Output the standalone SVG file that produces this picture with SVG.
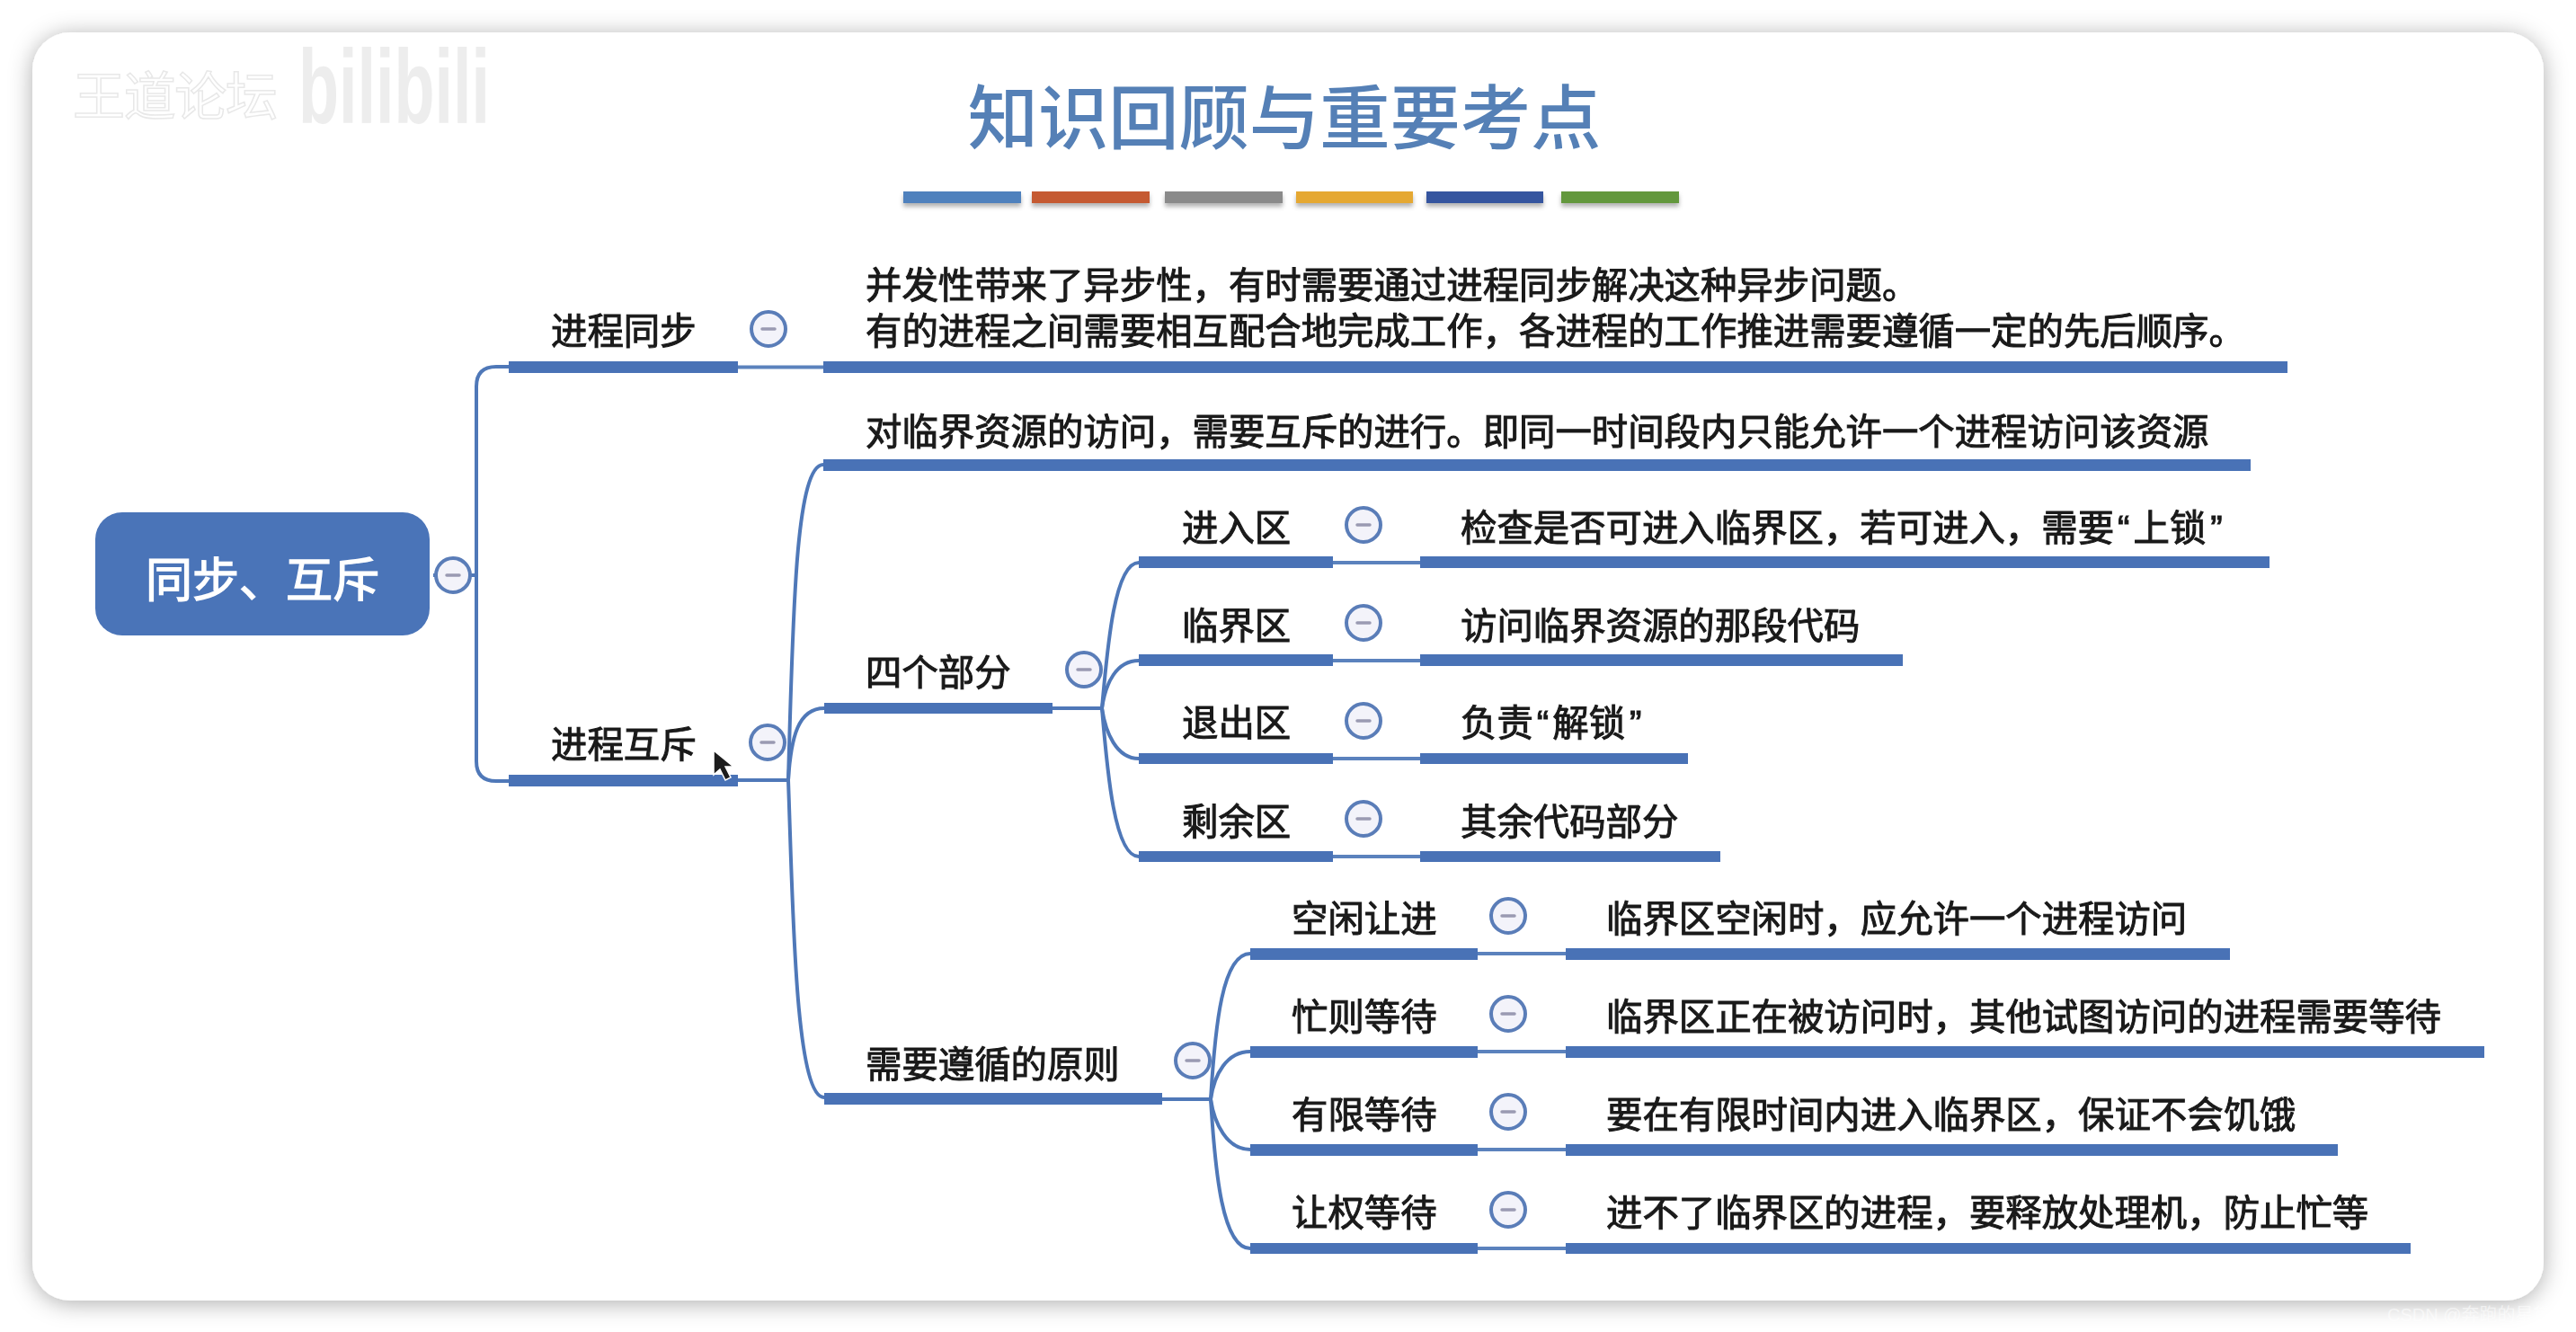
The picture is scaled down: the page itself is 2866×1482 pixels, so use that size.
<svg xmlns="http://www.w3.org/2000/svg" width="2866" height="1482" viewBox="0 0 2866 1482" xml:lang="zh-CN">
<style>
text{font-family:"Liberation Sans","Noto Sans CJK SC",sans-serif}
.t{font-size:40.4px;fill:#1a1a1a;stroke:#1a1a1a;stroke-width:1;filter:url(#soft)}
.bar{fill:#4a72b6;filter:url(#soft)}
.line{fill:none;stroke:#4f78b8;stroke-width:4}
.thin{fill:none;stroke:#5b82bd;stroke-width:4}
.c{fill:#f3f3fa;stroke:#5a7db8;stroke-width:4}
.d{stroke:#9a9ab2;stroke-width:3.5;stroke-linecap:round}
.sw{filter:url(#barShadow)}
.q{letter-spacing:4px}
</style>
<defs>
<filter id="card" x="-5%" y="-8%" width="110%" height="116%"><feDropShadow dx="0" dy="3" stdDeviation="13" flood-color="#000" flood-opacity="0.32"/></filter>
<filter id="barShadow" x="-5%" y="-50%" width="110%" height="250%"><feDropShadow dx="0" dy="4" stdDeviation="2.5" flood-color="#000" flood-opacity="0.3"/></filter>
<filter id="soft" x="-2%" y="-20%" width="104%" height="140%"><feGaussianBlur stdDeviation="0.7"/></filter>
<g id="minus"><circle class="c" r="19"/><line class="d" x1="-7" x2="7"/></g>
</defs>
<rect width="2866" height="1482" fill="#fff"/>
<rect id="card-bg" x="36" y="36" width="2794" height="1411" rx="42" fill="#fff" filter="url(#card)"/>
<g id="watermark">
<text x="81" y="128" font-size="58" fill="#fff" stroke="#e8e8e8" stroke-width="1.5" textLength="228" font-family="Noto Sans CJK SC, sans-serif">王道论坛</text>
<text x="332" y="137" font-size="116" fill="#ededed" font-weight="700" textLength="213" lengthAdjust="spacingAndGlyphs">bilibili</text>
</g>
<g id="title">
<text x="1429" y="160" text-anchor="middle" font-size="78.300" font-weight="500" fill="#5480b6" style="filter:url(#soft)">知识回顾与重要考点</text>
<g class="sw">
<rect x="1005" y="213" width="131" height="13" fill="#4f81bd"/>
<rect x="1148" y="213" width="131" height="13" fill="#c55a33"/>
<rect x="1296" y="213" width="131" height="13" fill="#8a8a8a"/>
<rect x="1442" y="213" width="130" height="13" fill="#e5a832"/>
<rect x="1587" y="213" width="130" height="13" fill="#34559f"/>
<rect x="1737" y="213" width="131" height="13" fill="#63983d"/>
</g>
</g>
<g id="connectors">
<path class="line" d="M482 640H530M566 408H552Q530 408 530 430V847Q530 869 552 869H566"/>
<path class="thin" d="M821 408.500H916"/>
<path class="line" d="M821 868H877"/>
<path class="line" d="M877 868C882 700 884 517 916 517"/>
<path class="line" d="M877 868C880 820 888 788 917 788"/>
<path class="line" d="M877 868C882 1000 884 1221 917 1221"/>
<path class="line" d="M1171 788H1226"/>
<path class="line" d="M1226 788C1232 720 1240 626 1267 626"/>
<path class="line" d="M1226 788C1230 760 1242 735 1267 735"/>
<path class="line" d="M1226 788C1230 815 1242 844 1267 844"/>
<path class="line" d="M1226 788C1232 860 1240 953 1267 953"/>
<path class="thin" d="M1483 626H1580M1483 735H1580M1483 844H1580M1483 953H1580"/>
<path class="line" d="M1293 1223H1347"/>
<path class="line" d="M1347 1223C1352 1140 1360 1061 1391 1061"/>
<path class="line" d="M1347 1223C1351 1195 1365 1170 1391 1170"/>
<path class="line" d="M1347 1223C1351 1250 1365 1279 1391 1279"/>
<path class="line" d="M1347 1223C1352 1305 1360 1389 1391 1389"/>
<path class="thin" d="M1644 1061H1742M1644 1170H1742M1644 1279H1742M1644 1389H1742"/>
</g>
<g id="root"><rect x="106" y="570" width="372" height="137" rx="30" fill="#4a74b8"/><text x="292" y="664" text-anchor="middle" font-size="52" stroke="#fff" stroke-width="1.400" fill="#fff" style="filter:url(#soft)">同步、互斥</text><use href="#minus" x="504" y="640"/></g>
<g id="n-sync"><rect class="bar" x="566" y="402" width="255" height="13"/><text class="t" x="613" y="383">进程同步</text><use href="#minus" x="855" y="366"/></g>
<g id="n-sync-desc"><rect class="bar" x="916" y="402" width="1629" height="13"/><text class="t" x="963" y="332">并发性带来了异步性，有时需要通过进程同步解决这种异步问题。</text><text class="t" x="963" y="383">有的进程之间需要相互配合地完成工作，各进程的工作推进需要遵循一定的先后顺序。</text></g>
<g id="n-mutex"><rect class="bar" x="566" y="862" width="255" height="13"/><text class="t" x="613" y="843">进程互斥</text><use href="#minus" x="854" y="826"/></g>
<g id="n-access"><rect class="bar" x="916" y="511" width="1588" height="13"/><text class="t" x="963" y="495">对临界资源的访问，需要互斥的进行。即同一时间段内只能允许一个进程访问该资源</text></g>
<g id="n-four"><rect class="bar" x="917" y="782" width="254" height="12"/><text class="t" x="963" y="763">四个部分</text><use href="#minus" x="1206" y="745"/></g>
<g id="n-enter"><rect class="bar" x="1267" y="619" width="216" height="13"/><text class="t" x="1315" y="602">进入区</text><use href="#minus" x="1517" y="584"/></g>
<g id="n-enter-d"><rect class="bar" x="1580" y="619" width="945" height="13"/><text class="t" x="1625" y="602">检查是否可进入临界区，若可进入，需要<tspan class="q" dx="4">“</tspan>上锁<tspan dx="5">”</tspan></text></g>
<g id="n-crit"><rect class="bar" x="1267" y="728" width="216" height="13"/><text class="t" x="1315" y="711">临界区</text><use href="#minus" x="1517" y="693"/></g>
<g id="n-crit-d"><rect class="bar" x="1580" y="728" width="537" height="13"/><text class="t" x="1625" y="711">访问临界资源的那段代码</text></g>
<g id="n-exit"><rect class="bar" x="1267" y="838" width="216" height="12"/><text class="t" x="1315" y="819">退出区</text><use href="#minus" x="1517" y="802"/></g>
<g id="n-exit-d"><rect class="bar" x="1580" y="838" width="298" height="12"/><text class="t" x="1625" y="819">负责<tspan class="q" dx="4">“</tspan>解锁<tspan dx="5">”</tspan></text></g>
<g id="n-rem"><rect class="bar" x="1267" y="947" width="216" height="12"/><text class="t" x="1315" y="929">剩余区</text><use href="#minus" x="1517" y="911"/></g>
<g id="n-rem-d"><rect class="bar" x="1580" y="947" width="334" height="12"/><text class="t" x="1625" y="929">其余代码部分</text></g>
<g id="n-rule"><rect class="bar" x="917" y="1216" width="376" height="13"/><text class="t" x="963" y="1199">需要遵循的原则</text><use href="#minus" x="1327" y="1180"/></g>
<g id="n-idle"><rect class="bar" x="1391" y="1055" width="253" height="13"/><text class="t" x="1437" y="1037">空闲让进</text><use href="#minus" x="1678" y="1019"/></g>
<g id="n-idle-d"><rect class="bar" x="1742" y="1055" width="739" height="13"/><text class="t" x="1787" y="1037">临界区空闲时，应允许一个进程访问</text></g>
<g id="n-busy"><rect class="bar" x="1391" y="1164" width="253" height="13"/><text class="t" x="1437" y="1146">忙则等待</text><use href="#minus" x="1678" y="1128"/></g>
<g id="n-busy-d"><rect class="bar" x="1742" y="1164" width="1022" height="13"/><text class="t" x="1787" y="1146">临界区正在被访问时，其他试图访问的进程需要等待</text></g>
<g id="n-bound"><rect class="bar" x="1391" y="1273" width="253" height="13"/><text class="t" x="1437" y="1255">有限等待</text><use href="#minus" x="1678" y="1237"/></g>
<g id="n-bound-d"><rect class="bar" x="1742" y="1273" width="859" height="13"/><text class="t" x="1787" y="1255">要在有限时间内进入临界区，保证不会饥饿</text></g>
<g id="n-yield"><rect class="bar" x="1391" y="1383" width="253" height="12"/><text class="t" x="1437" y="1364">让权等待</text><use href="#minus" x="1678" y="1346"/></g>
<g id="n-yield-d"><rect class="bar" x="1742" y="1383" width="940" height="12"/><text class="t" x="1787" y="1364">进不了临界区的进程，要释放处理机，防止忙等</text></g>
<path id="cursor" d="M794 835V862L801 856L807 868L813 865L807 853L816 853Z" fill="#1c1c1c" stroke="#fff" stroke-width="1.500"/>
<text id="csdn" x="2656" y="1470" font-size="20" fill="#fff" fill-opacity="0.55">CSDN @奔跑的星黛露</text>
</svg>
